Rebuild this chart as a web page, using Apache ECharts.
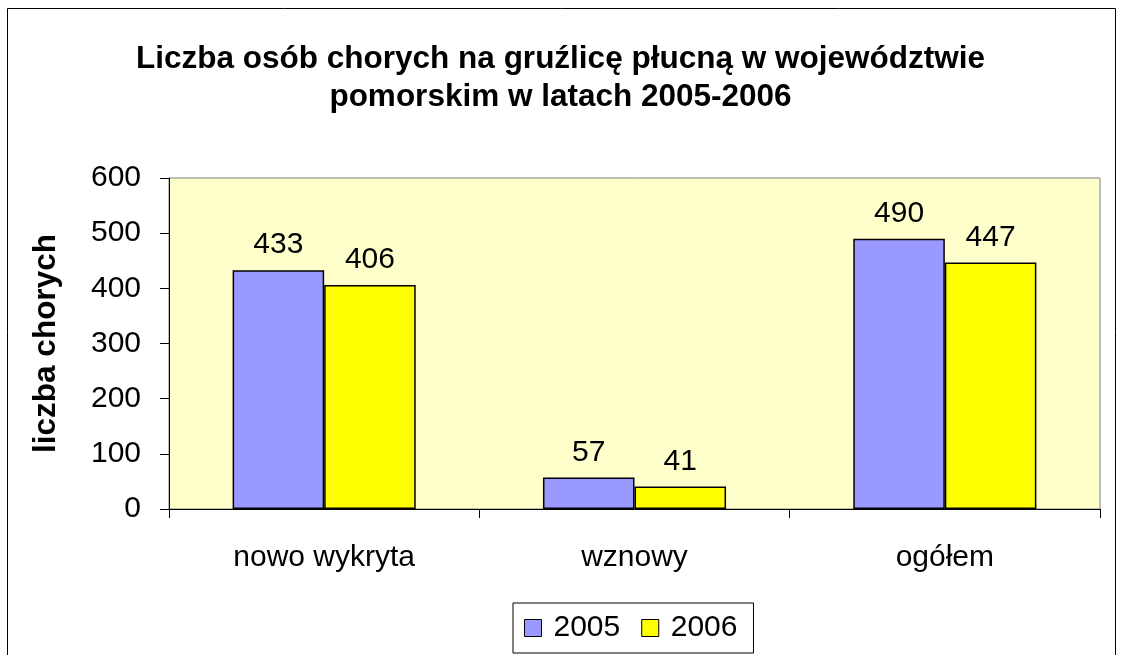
<!DOCTYPE html>
<html>
<head>
<meta charset="utf-8">
<script src="https://cdn.jsdelivr.net/npm/echarts@6/dist/echarts.min.js"></script>
<style>
  html, body { margin: 0; padding: 0; background: #fff; }
  #chart { width: 1121px; height: 655px; }
</style>
</head>
<body>
<div id="chart"></div>
<script>
var categories = ['nowo wykryta', 'wznowy', 'ogółem'];
var years = ['2005', '2006'];
var values2005 = [433, 57, 490];
var values2006 = [406, 41, 447];
var yTicks = [0, 100, 200, 300, 400, 500, 600];

var myChart = echarts.init(document.getElementById('chart'));
var font = 'Liberation Sans, Arial, sans-serif';

myChart.setOption({
  animation: false,
  backgroundColor: '#fff',
  title: {
    text: 'Liczba osób chorych na gruźlicę płucną w województwie\npomorskim w latach 2005-2006',
    left: 'center',
    top: 35,
    textStyle: {
      fontFamily: font,
      fontSize: 31.5,
      fontWeight: 'bold',
      color: '#000',
      lineHeight: 38
    }
  },
  graphic: [
    {
      type: 'rect',
      shape: { x: 7.5, y: 8.5, width: 1108, height: 660 },
      style: { fill: 'none', stroke: '#000', lineWidth: 1 },
      silent: true
    }
  ],
  legend: {
    bottom: 2,
    left: 513,
    data: years,
    icon: 'rect',
    itemWidth: 17,
    itemHeight: 17,
    itemGap: 21,
    padding: [10, 16, 10, 11],
    borderColor: '#000',
    borderWidth: 1,
    itemStyle: { borderColor: '#000', borderWidth: 1 },
    textStyle: { fontFamily: font, fontSize: 30, color: '#000', padding: [0, 0, 0, 7] }
  },
  grid: {
    left: 169,
    right: 21,
    top: 178,
    bottom: 146,
    show: true,
    backgroundColor: '#FFFFCC',
    borderColor: '#808080',
    borderWidth: 1
  },
  xAxis: {
    type: 'category',
    data: categories,
    axisLine: { lineStyle: { color: '#000', width: 1 } },
    axisTick: { show: true, length: 9, lineStyle: { color: '#000' } },
    axisLabel: { fontFamily: font, fontSize: 30, color: '#000', margin: 34 },
    splitLine: { show: false }
  },
  yAxis: {
    type: 'value',
    min: yTicks[0],
    max: yTicks[yTicks.length - 1],
    interval: 100,
    name: 'liczba chorych',
    nameLocation: 'middle',
    nameGap: 107,
    nameRotate: 90,
    nameTextStyle: { fontFamily: font, fontSize: 31.5, fontWeight: 'bold', color: '#000' },
    axisLine: { show: true, lineStyle: { color: '#000', width: 1 } },
    axisTick: { show: true, length: 9, lineStyle: { color: '#000' } },
    axisLabel: { fontFamily: font, fontSize: 30, color: '#000', margin: 28 },
    splitLine: { show: false }
  },
  series: [
    {
      name: years[0],
      type: 'bar',
      data: values2005,
      barGap: '0%',
      barCategoryGap: '41%',
      itemStyle: { color: '#9999FF', borderColor: '#000', borderWidth: 1.5 },
      label: { show: true, position: 'top', distance: 10, fontFamily: font, fontSize: 30, color: '#000' }
    },
    {
      name: years[1],
      type: 'bar',
      data: values2006,
      itemStyle: { color: '#FFFF00', borderColor: '#000', borderWidth: 1.5 },
      label: { show: true, position: 'top', distance: 10, fontFamily: font, fontSize: 30, color: '#000' }
    }
  ]
});
</script>
</body>
</html>
